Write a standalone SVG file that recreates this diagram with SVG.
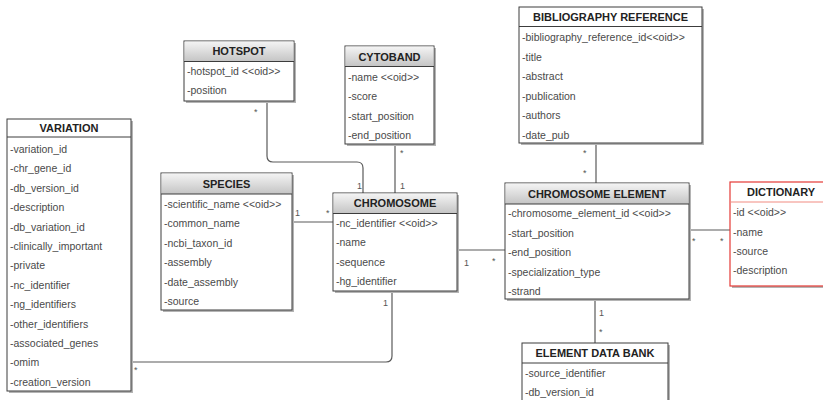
<svg xmlns="http://www.w3.org/2000/svg" width="823" height="400" viewBox="0 0 823 400">
<defs>
<linearGradient id="hdr" x1="0" y1="0" x2="0" y2="1">
<stop offset="0" stop-color="#f4f4f4"/>
<stop offset="1" stop-color="#c4c4c4"/>
</linearGradient>
<style>
.box{fill:#fff;stroke:#3c3c3c;stroke-width:1}
.shadow{fill:#b4b4b4}
.hdr{fill:url(#hdr);stroke:none}
.sep{stroke:#3c3c3c;stroke-width:1}
.title{font-family:"Liberation Sans",Arial,sans-serif;font-size:11px;font-weight:bold;fill:#222;text-anchor:middle}
.attr{font-family:"Liberation Sans",Arial,sans-serif;font-size:10.5px;fill:#4a4a4a}
.conn{fill:none;stroke:#5a5a5a;stroke-width:1.2}
.lbl{font-family:"Liberation Sans",Arial,sans-serif;font-size:9px;fill:#555}
.red{fill:#fff;stroke:#e53935;stroke-width:1.2}
</style>
</defs>
<rect width="823" height="400" fill="#fff"/>

<g id="connectors">
<path class="conn" d="M267,101 V156 Q267,162 273,162 H357 Q363,162 363,168 V193"/>
<path class="conn" d="M395,144 V193"/>
<path class="conn" d="M292,222 H333"/>
<path class="conn" d="M457,250 H505"/>
<path class="conn" d="M392,291 V356 Q392,362 386,362 H131"/>
<path class="conn" d="M596,144 V183"/>
<path class="conn" d="M689,230 H730"/>
<path class="conn" d="M595,300 V343"/>
<text class="lbl" x="254" y="115">*</text>
<text class="lbl" x="357" y="189">1</text>
<text class="lbl" x="400" y="156">*</text>
<text class="lbl" x="400" y="189">1</text>
<text class="lbl" x="295" y="216">1</text>
<text class="lbl" x="326" y="216">*</text>
<text class="lbl" x="464" y="266">1</text>
<text class="lbl" x="492" y="264">*</text>
<text class="lbl" x="383" y="306">1</text>
<text class="lbl" x="134" y="373">*</text>
<text class="lbl" x="583" y="156">*</text>
<text class="lbl" x="583" y="176">*</text>
<text class="lbl" x="692" y="244">*</text>
<text class="lbl" x="720" y="244">*</text>
<text class="lbl" x="599" y="316">1</text>
<text class="lbl" x="599" y="335">*</text>
</g>

<g id="variation">
<rect class="shadow" x="9" y="121" width="124" height="272"/>
<rect class="box" x="7" y="119" width="124" height="272"/>
<line class="sep" x1="7" y1="137" x2="131" y2="137"/>
<text class="title" x="69" y="132">VARIATION</text>
<text class="attr" x="10" y="153">-variation_id</text>
<text class="attr" x="10" y="172">-chr_gene_id</text>
<text class="attr" x="10" y="192">-db_version_id</text>
<text class="attr" x="10" y="211">-description</text>
<text class="attr" x="10" y="231">-db_variation_id</text>
<text class="attr" x="10" y="250">-clinically_important</text>
<text class="attr" x="10" y="269">-private</text>
<text class="attr" x="10" y="289">-nc_identifier</text>
<text class="attr" x="10" y="308">-ng_identifiers</text>
<text class="attr" x="10" y="328">-other_identifiers</text>
<text class="attr" x="10" y="347">-associated_genes</text>
<text class="attr" x="10" y="366">-omim</text>
<text class="attr" x="10" y="386">-creation_version</text>
</g>

<g id="hotspot">
<rect class="shadow" x="186" y="43" width="110" height="60"/>
<rect class="box" x="184" y="41" width="110" height="60"/>
<rect class="hdr" x="184.5" y="41.5" width="109" height="20"/>
<line class="sep" x1="184" y1="61.5" x2="294" y2="61.5"/>
<text class="title" x="239" y="55">HOTSPOT</text>
<text class="attr" x="187" y="75">-hotspot_id &lt;&lt;oid&gt;&gt;</text>
<text class="attr" x="187" y="94">-position</text>
</g>

<g id="cytoband">
<rect class="shadow" x="347" y="48" width="89" height="98"/>
<rect class="box" x="345" y="46" width="89" height="98"/>
<rect class="hdr" x="345.5" y="46.5" width="88" height="20"/>
<line class="sep" x1="345" y1="66.5" x2="434" y2="66.5"/>
<text class="title" x="389.5" y="61">CYTOBAND</text>
<text class="attr" x="348" y="81">-name &lt;&lt;oid&gt;&gt;</text>
<text class="attr" x="348" y="100">-score</text>
<text class="attr" x="348" y="120">-start_position</text>
<text class="attr" x="348" y="139">-end_position</text>
</g>

<g id="species">
<rect class="shadow" x="163" y="175" width="131" height="137"/>
<rect class="box" x="161" y="173" width="131" height="137"/>
<rect class="hdr" x="161.5" y="173.5" width="130" height="20.5"/>
<line class="sep" x1="161" y1="194" x2="292" y2="194"/>
<text class="title" x="226.5" y="188">SPECIES</text>
<text class="attr" x="164" y="208">-scientific_name &lt;&lt;oid&gt;&gt;</text>
<text class="attr" x="164" y="227">-common_name</text>
<text class="attr" x="164" y="247">-ncbi_taxon_id</text>
<text class="attr" x="164" y="266">-assembly</text>
<text class="attr" x="164" y="286">-date_assembly</text>
<text class="attr" x="164" y="305">-source</text>
</g>

<g id="chromosome">
<rect class="shadow" x="335" y="195" width="124" height="98"/>
<rect class="box" x="333" y="193" width="124" height="98"/>
<rect class="hdr" x="333.5" y="193.5" width="123" height="20"/>
<line class="sep" x1="333" y1="213.5" x2="457" y2="213.5"/>
<text class="title" x="395" y="207">CHROMOSOME</text>
<text class="attr" x="336" y="227">-nc_identifier &lt;&lt;oid&gt;&gt;</text>
<text class="attr" x="336" y="246">-name</text>
<text class="attr" x="336" y="266">-sequence</text>
<text class="attr" x="336" y="285">-hg_identifier</text>
</g>

<g id="chromosome-element">
<rect class="shadow" x="507" y="185" width="184" height="116"/>
<rect class="box" x="505" y="183" width="184" height="116"/>
<rect class="hdr" x="505.5" y="183.5" width="183" height="20.5"/>
<line class="sep" x1="505" y1="204" x2="689" y2="204"/>
<text class="title" x="597" y="198">CHROMOSOME ELEMENT</text>
<text class="attr" x="508" y="217">-chromosome_element_id &lt;&lt;oid&gt;&gt;</text>
<text class="attr" x="508" y="237">-start_position</text>
<text class="attr" x="508" y="256">-end_position</text>
<text class="attr" x="508" y="276">-specialization_type</text>
<text class="attr" x="508" y="295">-strand</text>
</g>

<g id="bibliography-reference">
<rect class="shadow" x="521" y="9" width="183" height="136"/>
<rect class="box" x="519" y="7" width="183" height="136"/>
<line class="sep" x1="519" y1="26.5" x2="702" y2="26.5"/>
<text class="title" x="610.5" y="21">BIBLIOGRAPHY REFERENCE</text>
<text class="attr" x="522" y="41">-bibliography_reference_id&lt;&lt;oid&gt;&gt;</text>
<text class="attr" x="522" y="61">-title</text>
<text class="attr" x="522" y="80">-abstract</text>
<text class="attr" x="522" y="100">-publication</text>
<text class="attr" x="522" y="119">-authors</text>
<text class="attr" x="522" y="139">-date_pub</text>
</g>

<g id="dictionary">
<rect class="shadow" x="732" y="184" width="105" height="104"/>
<rect class="red" x="730" y="182" width="105" height="104"/>
<line x1="730" y1="202" x2="835" y2="202" stroke="#f28b82" stroke-width="1.2"/>
<text class="title" x="781" y="196">DICTIONARY</text>
<text class="attr" x="733" y="216">-id &lt;&lt;oid&gt;&gt;</text>
<text class="attr" x="733" y="236">-name</text>
<text class="attr" x="733" y="255">-source</text>
<text class="attr" x="733" y="274">-description</text>
</g>

<g id="element-data-bank">
<rect class="shadow" x="524" y="345" width="146" height="70"/>
<rect class="box" x="522" y="343" width="146" height="70"/>
<line class="sep" x1="522" y1="363" x2="668" y2="363"/>
<text class="title" x="595" y="357">ELEMENT DATA BANK</text>
<text class="attr" x="525" y="377">-source_identifier</text>
<text class="attr" x="525" y="396">-db_version_id</text>
</g>
</svg>
